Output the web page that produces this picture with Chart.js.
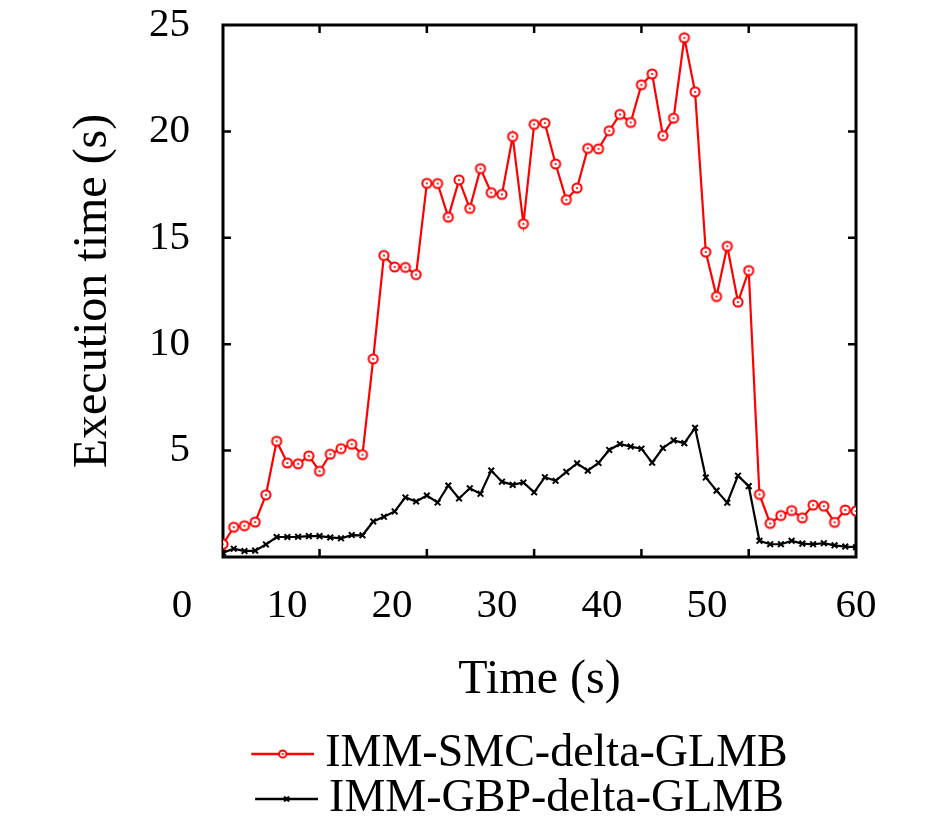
<!DOCTYPE html>
<html>
<head>
<meta charset="utf-8">
<title>Execution time</title>
<script src="https://cdn.jsdelivr.net/npm/chart.js@4.4.0/dist/chart.umd.min.js"></script>
<style>
    html, body { margin: 0; padding: 0; background: #ffffff; }
    canvas { display: block; }
</style>
</head>
<body>
<canvas id="execTime" width="945" height="828"></canvas>
<script>
var timeSteps = [1, 2, 3, 4, 5, 6, 7, 8, 9, 10, 11, 12, 13, 14, 15, 16, 17, 18, 19, 20, 21, 22, 23, 24, 25, 26, 27, 28, 29, 30, 31, 32, 33, 34, 35, 36, 37, 38, 39, 40, 41, 42, 43, 44, 45, 46, 47, 48, 49, 50, 51, 52, 53, 54, 55, 56, 57, 58, 59, 60];
var smcTimes = [0.6, 1.4, 1.47, 1.64, 2.92, 5.44, 4.42, 4.38, 4.75, 4.03, 4.83, 5.09, 5.3, 4.81, 9.31, 14.17, 13.63, 13.61, 13.27, 17.56, 17.55, 15.97, 17.72, 16.38, 18.25, 17.12, 17.04, 19.76, 15.66, 20.33, 20.39, 18.47, 16.79, 17.34, 19.2, 19.18, 20.03, 20.8, 20.42, 22.19, 22.7, 19.8, 20.62, 24.4, 21.86, 14.33, 12.24, 14.6, 11.98, 13.46, 2.94, 1.58, 1.95, 2.18, 1.84, 2.44, 2.39, 1.63, 2.21, 2.16];
var gbpTimes = [0.2, 0.39, 0.28, 0.3, 0.59, 0.94, 0.94, 0.95, 0.98, 0.98, 0.92, 0.88, 1.03, 1.02, 1.67, 1.89, 2.14, 2.8, 2.61, 2.89, 2.56, 3.36, 2.75, 3.23, 2.97, 4.06, 3.54, 3.39, 3.5, 3.04, 3.75, 3.58, 4.0, 4.4, 4.06, 4.42, 5.03, 5.31, 5.19, 5.09, 4.43, 5.12, 5.48, 5.35, 6.07, 3.74, 3.12, 2.55, 3.82, 3.33, 0.76, 0.6, 0.6, 0.76, 0.63, 0.6, 0.65, 0.55, 0.49, 0.46];
var xTickLabels = [0, 10, 20, 30, 40, 50, 60];
var seriesNames = ['IMM-SMC-delta-GLMB', 'IMM-GBP-delta-GLMB'];

Chart.defaults.font.family = "'Liberation Serif', 'Times New Roman', serif";
Chart.defaults.color = '#000000';

function makeCanvas(w, h, draw) {
    let c = document.createElement('canvas');
    c.width = w;
    c.height = h;
    draw(c.getContext('2d'));
    return c;
}

function circleMark(g, cx, cy, r) {
    g.beginPath();
    g.arc(cx, cy, r, 0, 2 * Math.PI);
    g.fillStyle = '#ffffff';
    g.fill();
    g.lineWidth = 2;
    g.strokeStyle = '#ff0000';
    g.stroke();
    g.beginPath();
    g.arc(cx, cy, 1.1, 0, 2 * Math.PI);
    g.fillStyle = '#ff0000';
    g.fill();
}

function crossMark(g, cx, cy, r) {
    g.beginPath();
    g.moveTo(cx - r, cy - r); g.lineTo(cx + r, cy + r);
    g.moveTo(cx - r, cy + r); g.lineTo(cx + r, cy - r);
    g.lineWidth = 2;
    g.strokeStyle = '#000000';
    g.stroke();
}

// legend samples: wide transparent canvas, line + marker sit at its right end
function legendSample(color, mark) {
    return makeCanvas(258, 16, (g) => {
        g.beginPath();
        g.moveTo(195, 8);
        g.lineTo(258, 8);
        g.lineWidth = 2.5;
        g.strokeStyle = color;
        g.stroke();
        mark(g, 226.5, 8);
    });
}

var redPoint = makeCanvas(14, 14, (g) => circleMark(g, 7, 7, 4.6));
var legendSamples = [
    legendSample('#ff0000', (g, x, y) => circleMark(g, x, y, 3.6)),
    legendSample('#000000', (g, x, y) => crossMark(g, x, y, 2.5))
];

// box and inward tick marks, placed with the chart's own scales
var framePlugin = {
    id: 'frame',
    beforeDatasetsDraw(chart) {
        let ctx = chart.ctx, a = chart.chartArea, x = chart.scales.x, y = chart.scales.y;
        let len = 8;
        ctx.save();
        ctx.strokeStyle = '#000000';
        ctx.lineWidth = 2.5;
        ctx.beginPath();
        x.ticks.forEach((t) => {
            if (t.value > x.min && t.value < x.max) {
                let px = x.getPixelForValue(t.value);
                ctx.moveTo(px, a.bottom); ctx.lineTo(px, a.bottom - len);
                ctx.moveTo(px, a.top); ctx.lineTo(px, a.top + len);
            }
        });
        y.ticks.forEach((t) => {
            if (t.value > y.min && t.value < y.max) {
                let py = y.getPixelForValue(t.value);
                ctx.moveTo(a.left, py); ctx.lineTo(a.left + len, py);
                ctx.moveTo(a.right, py); ctx.lineTo(a.right - len, py);
            }
        });
        ctx.stroke();
        ctx.lineWidth = 3;
        ctx.strokeRect(a.left, a.top, a.right - a.left, a.bottom - a.top);
        ctx.restore();
    }
};

var chartConfig = {
    type: 'line',
    data: {
        datasets: [
            {
                label: seriesNames[0],
                data: timeSteps.map((t, i) => ({ x: t, y: smcTimes[i] })),
                borderColor: '#ff0000',
                borderWidth: 2.2,
                tension: 0,
                pointStyle: redPoint,
                pointRadius: 5
            },
            {
                label: seriesNames[1],
                data: timeSteps.map((t, i) => ({ x: t, y: gbpTimes[i] })),
                borderColor: '#000000',
                backgroundColor: '#000000',
                borderWidth: 2.2,
                tension: 0,
                pointStyle: 'crossRot',
                pointRadius: 4,
                pointBorderWidth: 2
            }
        ]
    },
    options: {
        responsive: false,
        animation: false,
        events: [],
        layout: {
            padding: { top: 25, right: 89, bottom: -4, left: 0 }
        },
        plugins: {
            tooltip: { enabled: false },
            legend: {
                display: true,
                position: 'bottom',
                labels: {
                    usePointStyle: true,
                    pointStyleWidth: 234,
                    padding: -1,
                    color: '#000000',
                    font: { size: 46 },
                    generateLabels: (chart) => chart.data.datasets.map((ds, i) => ({
                        text: ds.label,
                        pointStyle: legendSamples[i],
                        datasetIndex: i,
                        hidden: false,
                        lineWidth: 0,
                        fillStyle: ds.borderColor,
                        strokeStyle: ds.borderColor,
                        fontColor: '#000000'
                    }))
                }
            }
        },
        scales: {
            x: {
                type: 'linear',
                position: 'bottom',
                min: 1,
                max: 60,
                ticks: { display: false, stepSize: 10 },
                grid: { display: false, drawTicks: false },
                border: { display: false },
                afterFit: (s) => { s.height = 0; s.paddingLeft = 0; s.paddingRight = 0; }
            },
            // the figure's tick labels sit left of their tick marks; they get a scale of their own
            x2: {
                type: 'linear',
                axis: 'x',
                position: 'bottom',
                min: 3.9,
                max: 64.2,
                grid: { display: false, drawTicks: false },
                border: { display: false },
                afterBuildTicks: (s) => {
                    s.ticks = xTickLabels.map((v) => ({ value: v < 60 ? v : s.max }));
                },
                ticks: {
                    autoSkip: false,
                    maxRotation: 0,
                    padding: 25,
                    font: { size: 41 },
                    callback: (v, i) => String(xTickLabels[i])
                },
                title: {
                    display: true,
                    text: 'Time (s)',
                    font: { size: 48 },
                    padding: { top: 0, bottom: 23 }
                },
                afterFit: (s) => { s.height = 175; s.paddingLeft = 0; s.paddingRight = 0; }
            },
            y: {
                type: 'linear',
                min: 0,
                max: 25,
                ticks: {
                    stepSize: 5,
                    padding: 33,
                    font: { size: 41 },
                    callback: (v) => v === 0 ? '' : String(v)
                },
                grid: { display: false, drawTicks: false },
                border: { display: false },
                title: {
                    display: true,
                    text: 'Execution time (s)',
                    font: { size: 48 },
                    padding: { top: 65, bottom: 0 }
                },
                afterFit: (s) => { s.width = 223; s.paddingTop = 0; s.paddingBottom = 0; }
            }
        }
    },
    plugins: [framePlugin]
};

var execTimeChart = new Chart(document.getElementById('execTime'), chartConfig);
</script>
</body>
</html>
